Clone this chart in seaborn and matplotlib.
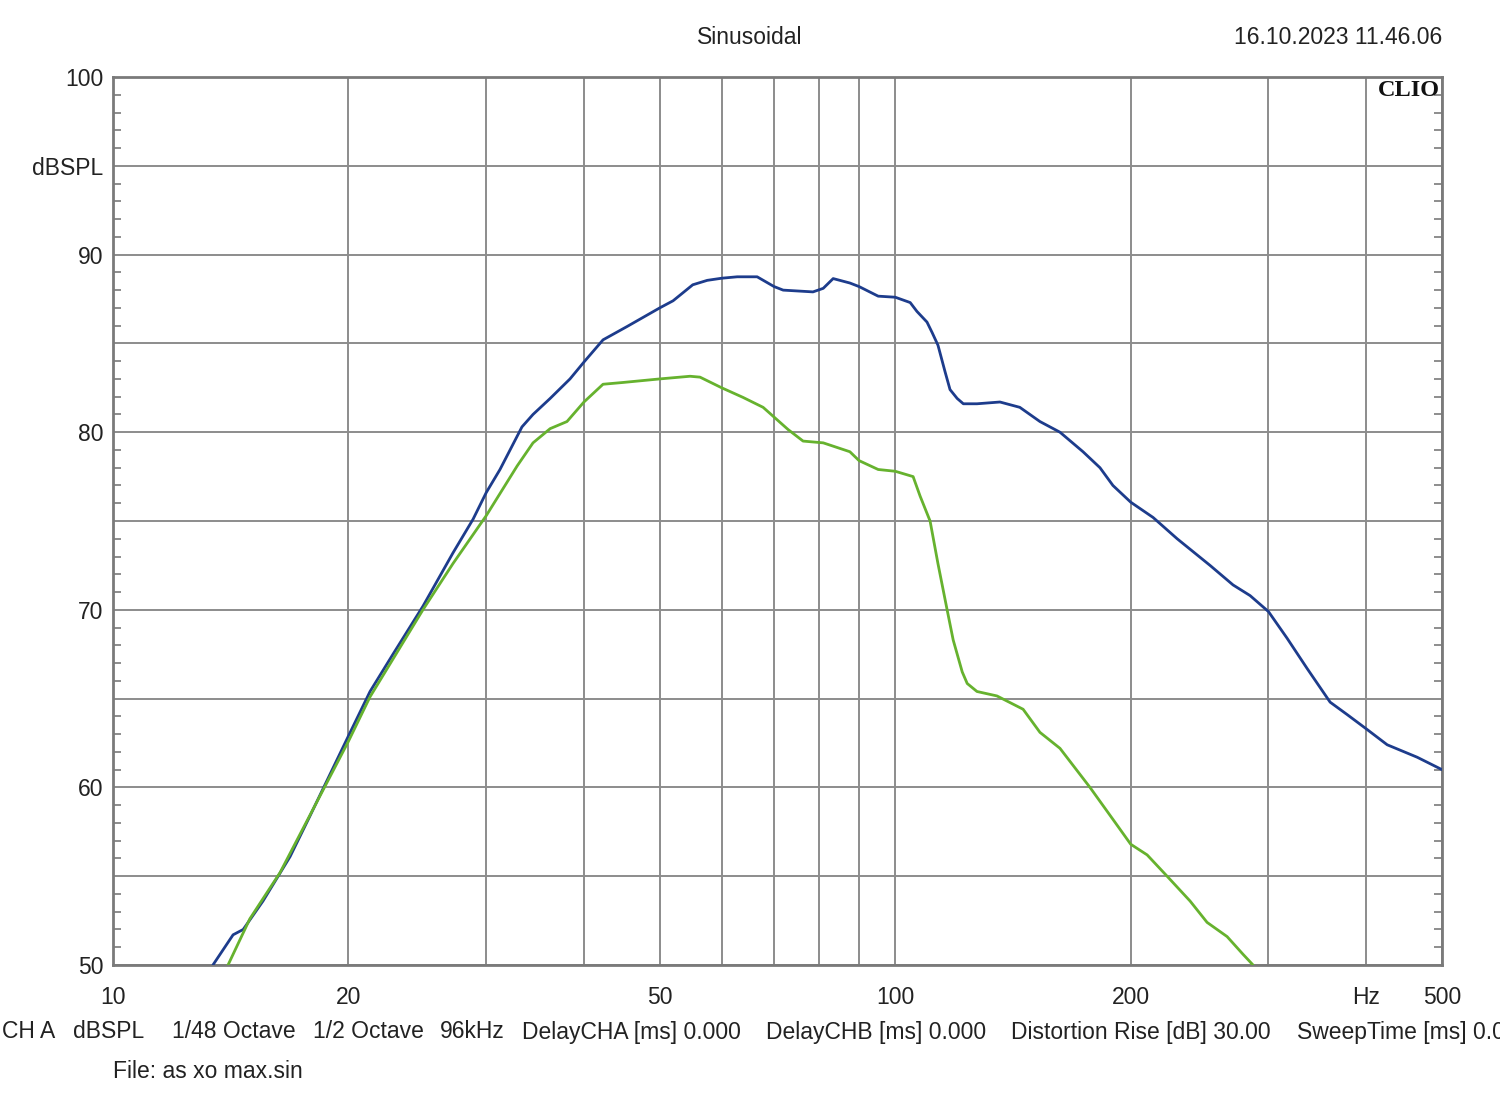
import matplotlib
matplotlib.use("Agg")
import matplotlib.pyplot as plt
import seaborn as sns
import pandas as pd
from matplotlib.ticker import FixedLocator, MultipleLocator, NullLocator

# ---- data ----
freq_blue = [13.42, 14.24, 14.67, 15.55, 16.84, 17.86, 20.0, 21.31, 22.80, 24.90,
             27.20, 28.86, 30.0, 31.24, 33.33, 34.43, 36.21, 38.39, 40.0, 42.31,
             45.41, 50.0, 52.0, 55.1, 57.5, 60.0, 62.8, 66.6, 70.0, 71.9,
             78.5, 80.9, 83.3, 87.5, 89.9, 95.1, 100.0, 104.5, 106.6, 109.8,
             111.5, 113.4, 115.8, 117.5, 120.0, 122.2, 127.2, 136.1, 144.3, 153.1,
             162.4, 173.8, 182.7, 189.8, 200.0, 213.6, 229.3, 252.6, 270.3, 284.2,
             300.0, 316.9, 336.1, 359.7, 378.2, 400.0, 425.5, 464.7, 500.0]
spl_blue = [50.0, 51.7, 52.0, 53.6, 56.1, 58.4, 62.9, 65.4, 67.5, 70.2,
            73.2, 75.1, 76.6, 77.9, 80.3, 81.0, 81.9, 83.0, 83.95, 85.2,
            85.95, 87.0, 87.4, 88.3, 88.55, 88.67, 88.75, 88.75, 88.2, 88.0,
            87.9, 88.1, 88.65, 88.4, 88.2, 87.66, 87.6, 87.3, 86.8, 86.2,
            85.6, 84.9, 83.4, 82.4, 81.9, 81.6, 81.6, 81.7, 81.4, 80.6,
            80.0, 78.9, 78.0, 77.0, 76.06, 75.2, 74.0, 72.5, 71.4, 70.8,
            69.9, 68.4, 66.7, 64.8, 64.1, 63.3, 62.4, 61.7, 61.0]

freq_green = [14.03, 14.96, 16.35, 20.0, 21.31, 24.90, 27.20, 30.0, 32.86, 34.43,
              36.21, 38.05, 40.0, 42.31, 44.87, 50.0, 54.66, 56.29, 60.0, 63.88,
              67.78, 72.95, 76.24, 80.9, 87.5, 89.9, 95.1, 100.0, 105.4, 107.6,
              110.8, 113.4, 116.5, 118.6, 121.8, 123.6, 127.2, 134.9, 145.7, 153.1,
              162.4, 177.4, 189.8, 200.0, 209.9, 222.6, 238.2, 250.4, 265.6, 278.4,
              286.7]
spl_green = [50.0, 52.6, 55.2, 62.6, 65.1, 70.0, 72.6, 75.3, 78.1, 79.4,
             80.2, 80.6, 81.7, 82.7, 82.8, 83.0, 83.15, 83.1, 82.5, 81.96,
             81.4, 80.15, 79.5, 79.4, 78.9, 78.4, 77.9, 77.8, 77.5, 76.4,
             75.0, 72.6, 70.0, 68.3, 66.5, 65.85, 65.4, 65.15, 64.4, 63.1,
             62.2, 60.0, 58.2, 56.8, 56.2, 55.0, 53.6, 52.4, 51.6, 50.6,
             50.0]

x_ticks = [10, 20, 30, 40, 50, 60, 70, 80, 90, 100, 200, 300, 400, 500]
x_ticklabels = ["10", "20", "", "", "50", "", "", "", "", "100", "200", "", "Hz", "500"]
y_ticks = [50, 55, 60, 65, 70, 75, 80, 85, 90, 95, 100]
y_ticklabels = ["50", "", "60", "", "70", "", "80", "", "90", "dBSPL", "100"]

title_text = "Sinusoidal"
date_text = "16.10.2023 11.46.06"
brand_text = "CLIO"
footer_items = ["CH A", "dBSPL", "1/48 Octave", "1/2 Octave", "96kHz",
                "DelayCHA [ms] 0.000", "DelayCHB [ms] 0.000",
                "Distortion Rise [dB] 30.00", "SweepTime [ms] 0.000"]
footer_x = [2, 73, 172, 313, 440, 522, 766, 1011, 1297]
file_text = "File: as xo max.sin"

# ---- style ----
sns.set_style("white")
plt.rcParams["font.family"] = ["Liberation Sans", "DejaVu Sans"]

W, H = 1500, 1110
FS = 16.5
fig = plt.figure(figsize=(W / 100, H / 100), dpi=100)
ax = fig.add_axes([113 / W, 1 - 965 / H, (1442 - 113) / W, (965 - 77) / H])

blue = "#1d3c8c"
green = "#66b22e"
grid_c = "#8c8c8c"
text_c = "#222222"

df_b = pd.DataFrame({"f": freq_blue, "spl": spl_blue})
df_g = pd.DataFrame({"f": freq_green, "spl": spl_green})
sns.lineplot(data=df_b, x="f", y="spl", ax=ax, color=blue, lw=2.0,
             estimator=None, sort=False, zorder=3)
sns.lineplot(data=df_g, x="f", y="spl", ax=ax, color=green, lw=2.0,
             estimator=None, sort=False, zorder=3)

ax.set_xscale("log")
ax.set_xlim(10, 500)
ax.set_ylim(50, 100)
ax.xaxis.set_major_locator(FixedLocator(x_ticks))
ax.xaxis.set_minor_locator(NullLocator())
ax.set_xticklabels(x_ticklabels)
ax.yaxis.set_major_locator(FixedLocator(y_ticks))
ax.set_yticklabels(y_ticklabels)
ax.yaxis.set_minor_locator(MultipleLocator(1))
ax.set_xlabel("")
ax.set_ylabel("")

ax.grid(True, which="major", color=grid_c, lw=1.4, zorder=1)
ax.set_axisbelow(True)
for s in ax.spines.values():
    s.set_visible(True)
    s.set_color("#7a7a7a")
    s.set_linewidth(2.0)

ax.tick_params(axis="x", which="major", length=0, pad=15, labelsize=FS, labelcolor=text_c)
ax.tick_params(axis="y", which="major", length=0, pad=7, labelsize=FS, labelcolor=text_c)
ax.tick_params(axis="y", which="minor", direction="in", length=6, width=1.2,
               color="#7a7a7a", left=True, right=True)

fig.text(750 / W, 1 - 38 / H, title_text, ha="center", va="center", fontsize=FS, color=text_c)
fig.text(1442 / W, 1 - 38 / H, date_text, ha="right", va="center", fontsize=FS, color=text_c)
ax.text(0.9985, 0.997, brand_text, transform=ax.transAxes, ha="right", va="top",
        fontsize=17.5, fontweight="bold", color="#111111",
        family=["Liberation Serif", "DejaVu Serif"])

for label, xp in zip(footer_items, footer_x):
    fig.text(xp / W, 1 - 1032 / H, label, ha="left", va="center", fontsize=FS, color=text_c)
fig.text(113 / W, 1 - 1072 / H, file_text, ha="left", va="center", fontsize=FS, color=text_c)

fig.savefig("out.png", dpi=100, facecolor="white")
